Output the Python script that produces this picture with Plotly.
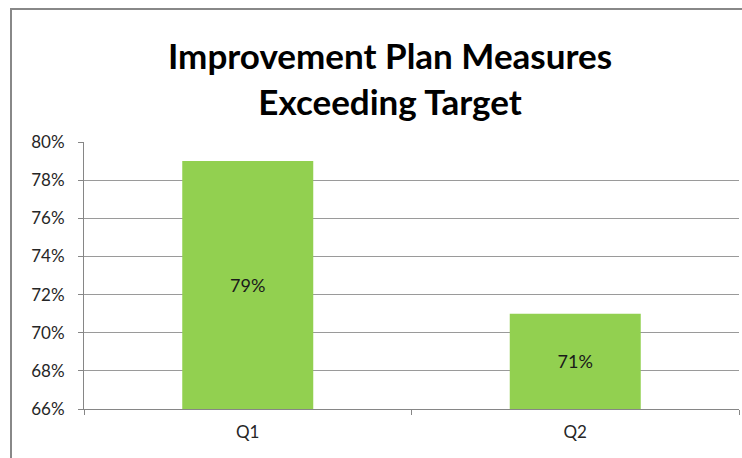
import plotly.graph_objects as go

categories = ["Q1", "Q2"]
values = [0.79, 0.71]
labels = ["79%", "71%"]
title_lines = ["Improvement Plan Measures", "Exceeding Target"]
y_min, y_max = 0.66, 0.80

W, H = 742, 458
ml, mr, mt, mb = 84, 3, 142, 49
pw, ph = W - ml - mr, H - mt - mb

def px_x(p):
    return (p - ml) / pw

def px_y(p):
    return (H - mb - p) / ph

fig = go.Figure(go.Bar(
    x=categories, y=[v - y_min for v in values], base=[y_min] * len(values),
    text=labels,
    textposition="inside", insidetextanchor="middle",
    textfont=dict(family="Lato", size=18, color="#1a1a1a"),
    marker=dict(color="#92D050", line=dict(width=0)),
    width=0.4, textangle=0,
))

fig.update_layout(
    width=W, height=H,
    margin=dict(l=ml, r=mr, t=mt, b=mb, autoexpand=False),
    paper_bgcolor="white", plot_bgcolor="white",
    showlegend=False,
    font=dict(family="Lato", size=17, color="#262626"),
    uniformtext=dict(minsize=16, mode="show"),
    xaxis=dict(
        type="category", tickson="boundaries", ticks="outside", ticklen=5,
        tickcolor="#868686", showline=True, linecolor="#868686", linewidth=1,
        showgrid=False, tickfont=dict(size=17, color="#262626"),
        range=[-0.5, 1.5], ticklabelstandoff=8,
    ),
    yaxis=dict(
        range=[y_min, y_max], dtick=0.02, tick0=y_min, tickformat=".0%",
        ticks="outside", ticklen=5, tickcolor="#868686",
        showline=True, linecolor="#868686", linewidth=1,
        showgrid=True, gridcolor="#9a9a9a", gridwidth=1,
        zeroline=False, tickfont=dict(size=17, color="#262626"),
        ticklabelstandoff=10,
    ),
    annotations=[
        dict(text="<b>" + "<br>".join(title_lines) + "</b>",
             x=px_x(390), y=px_y(78), xref="paper", yref="paper",
             xanchor="center", yanchor="middle", showarrow=False,
             font=dict(family="Lato", size=35, color="black"),
             align="center"),
    ],
    shapes=[
        dict(type="rect", xref="paper", yref="paper",
             x0=px_x(11), x1=px_x(760), y0=px_y(470), y1=px_y(9),
             line=dict(color="#888888", width=2), fillcolor="rgba(0,0,0,0)",
             layer="above"),
    ],
)

fig.write_html("out.html", config={"displayModeBar": False},
               post_script="document.body.style.margin='0';")
